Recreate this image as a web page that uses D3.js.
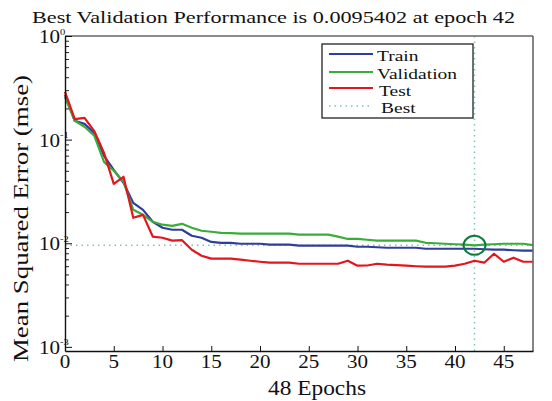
<!DOCTYPE html>
<html><head><meta charset="utf-8">
<script src="https://cdn.jsdelivr.net/npm/d3@7"></script>
<style>
body{margin:0;background:#fff}
svg{display:block}
text{font-family:"Liberation Serif","Times New Roman",Tinos,Times,serif;fill:#111}
</style>
</head><body>
<svg id="c" width="552" height="401"></svg>
<script>
const trainPerf=[0.270,0.152,0.142,0.116,0.0697,0.0511,0.0383,0.0245,0.0210,0.0161,0.0141,0.0135,0.0135,0.0118,0.0113,0.0103,0.0101,0.0101,0.00989,0.00989,0.00989,0.00968,0.00968,0.00968,0.00947,0.00947,0.00947,0.00947,0.00947,0.00947,0.00925,0.00925,0.00915,0.00905,0.00905,0.00905,0.00905,0.00885,0.00885,0.00885,0.00885,0.00885,0.00885,0.00875,0.00866,0.00866,0.00856,0.00847,0.00847];
const valPerf=[0.258,0.152,0.133,0.109,0.0610,0.0500,0.0392,0.0210,0.0188,0.0161,0.0151,0.0147,0.0154,0.0141,0.0132,0.0129,0.0126,0.0125,0.0124,0.0124,0.0124,0.0124,0.0124,0.0124,0.0121,0.0121,0.0121,0.0121,0.0116,0.0110,0.0110,0.0108,0.0106,0.0106,0.0106,0.0106,0.0106,0.0101,0.0100,0.00989,0.00978,0.00968,0.0095402,0.00968,0.00978,0.00989,0.00989,0.00989,0.00960];
const testPerf=[0.289,0.158,0.162,0.121,0.0745,0.0374,0.0438,0.0176,0.0188,0.0116,0.0113,0.0106,0.0107,0.00866,0.00758,0.00710,0.00710,0.00710,0.00694,0.00678,0.00663,0.00649,0.00649,0.00649,0.00634,0.00634,0.00634,0.00634,0.00634,0.00678,0.00607,0.00610,0.00634,0.00621,0.00614,0.00607,0.00600,0.00594,0.00594,0.00594,0.00607,0.00634,0.00678,0.00649,0.00792,0.00663,0.00726,0.00663,0.00663];
const bestEpoch=42, bestVal=0.0095402;
const xTicks=[0,5,10,15,20,25,30,35,40,45];
const yTicks=[1,0.1,0.01,0.001];
const yTickExp=["0","-1","-2","-3"];
const legendLabels=["Train","Validation","Test","Best"];
const titleText="Best Validation Performance is 0.0095402 at epoch 42";
const xLabel="48 Epochs";
const yLabel="Mean Squared Error  (mse)";

const colors={train:"#2f3d9c",val:"#3aac3a",test:"#e3161d",best:"#7cc3bb",circle:"#0e7a3c"};
const L=65,R=533,T=36,B=351;
const svg=d3.select("#c");
const x=d3.scaleLinear().domain([0,48]).range([L,R]);
const y=d3.scaleLog().domain([Math.pow(10,-3.04),1]).range([B,T]);

function stext(g,tx,ty,str,size,anchor,sx){
  return g.append("g").attr("transform",`translate(${tx},${ty}) scale(${sx||1.17},1)`)
    .append("text").attr("font-size",size).attr("text-anchor",anchor||"start").text(str);
}

svg.append("line").attr("x1",x(0)).attr("x2",x(48)).attr("y1",y(bestVal)).attr("y2",y(bestVal))
  .attr("stroke",colors.best).attr("stroke-width",1.5).attr("stroke-dasharray","1.5,4");
svg.append("line").attr("x1",x(bestEpoch)).attr("x2",x(bestEpoch)).attr("y1",B).attr("y2",T)
  .attr("stroke",colors.best).attr("stroke-width",1.5).attr("stroke-dasharray","1.5,4");

const line=d3.line().x((d,i)=>x(i)).y(d=>y(d));
[[trainPerf,colors.train],[valPerf,colors.val],[testPerf,colors.test]].forEach(([data,c])=>{
  svg.append("path").datum(data).attr("d",line).attr("fill","none").attr("stroke",c)
    .attr("stroke-width",2.2).attr("stroke-linejoin","round");
});

svg.append("ellipse").attr("cx",x(bestEpoch)).attr("cy",y(bestVal)).attr("rx",11).attr("ry",9.5)
  .attr("fill","none").attr("stroke",colors.circle).attr("stroke-width",2);

svg.append("line").attr("x1",L).attr("x2",R).attr("y1",T).attr("y2",T).attr("stroke","#666").attr("stroke-width",1.6);
svg.append("line").attr("x1",R).attr("x2",R).attr("y1",T).attr("y2",B).attr("stroke","#666").attr("stroke-width",1.6);

const minors=[];
[0.001,0.01,0.1].forEach(d=>{for(let k=2;k<=9;k++)minors.push(d*k);});
svg.append("g").attr("transform",`translate(${L},0)`)
  .call(d3.axisLeft(y).tickValues(minors).tickSize(-4).tickFormat(""))
  .call(g=>g.select(".domain").remove())
  .selectAll("line").attr("stroke","#222");

const ya=svg.append("g").attr("transform",`translate(${L},0)`)
  .call(d3.axisLeft(y).tickValues(yTicks).tickSize(-7).tickSizeOuter(0).tickFormat(""));
ya.select(".domain").attr("stroke","#111").attr("stroke-width",1.4);
ya.selectAll("line").attr("stroke","#111");
yTicks.forEach((v,i)=>{
  stext(svg,60,y(v)+7,"10",18,"end");
  stext(svg,60,y(v)-1.5,yTickExp[i],9,"start");
});

const xa=svg.append("g").attr("transform",`translate(0,${B})`)
  .call(d3.axisBottom(x).tickValues(xTicks).tickSize(-5).tickSizeOuter(0).tickFormat(""));
xa.select(".domain").attr("stroke","#111").attr("stroke-width",1.4);
xa.selectAll("line").attr("stroke","#111");
xTicks.forEach(v=>{ stext(svg,x(v),368,String(v),18,"middle"); });

svg.append("text").attr("x",32).attr("y",23).attr("font-size",17.5)
  .attr("textLength",483).attr("lengthAdjust","spacingAndGlyphs").text(titleText);
svg.append("text").attr("x",268).attr("y",395).attr("font-size",20)
  .attr("textLength",98).attr("lengthAdjust","spacingAndGlyphs").text(xLabel);
svg.append("text").attr("transform","translate(28,362) rotate(-90)").attr("font-size",21)
  .attr("textLength",287).attr("lengthAdjust","spacingAndGlyphs").text(yLabel);

const lg=svg.append("g");
lg.append("rect").attr("x",322).attr("y",44).attr("width",151).attr("height",74)
  .attr("fill","#fff").attr("stroke","#222").attr("stroke-width",1.3);
const rows=[{c:colors.train,y:54,ty:61,tx:377},{c:colors.val,y:72,ty:78.5,tx:377},{c:colors.test,y:88,ty:95.5,tx:379},{c:colors.best,y:106,ty:112.5,tx:381,dash:true}];
rows.forEach((r,i)=>{
  lg.append("line").attr("x1",329).attr("x2",373).attr("y1",r.y).attr("y2",r.y)
    .attr("stroke",r.c).attr("stroke-width",r.dash?1.5:2.2).attr("stroke-dasharray",r.dash?"1.5,4":null);
  stext(lg,r.tx,r.ty,legendLabels[i],15,"start",1.3);
});
</script>
</body></html>
